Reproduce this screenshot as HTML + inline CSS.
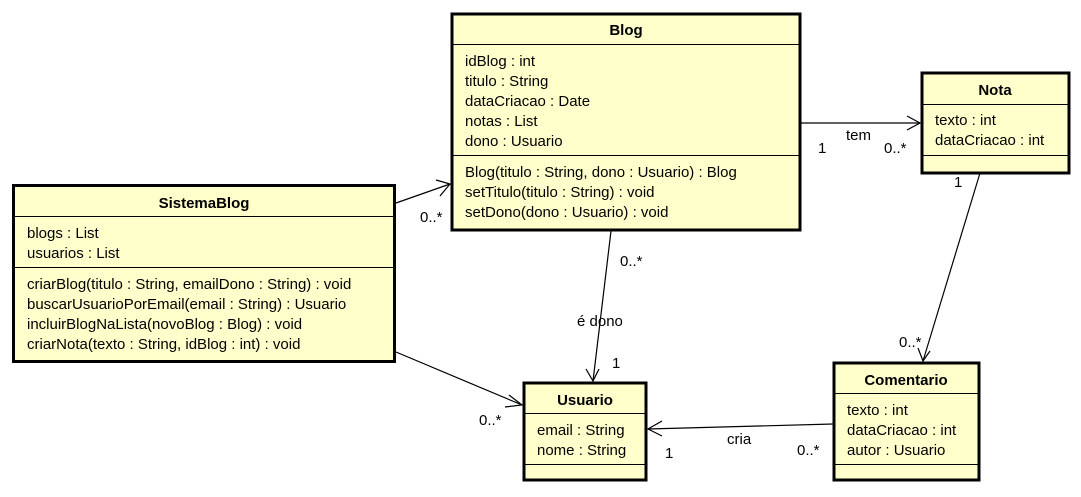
<!DOCTYPE html>
<html><head><style>
html,body{margin:0;padding:0;background:#fff;}
svg text{font-family:"Liberation Sans",Arial,sans-serif;font-size:15px;fill:#000;}
.b{font-weight:bold;}
</style></head><body>
<svg width="1081" height="492" viewBox="0 0 1081 492" xmlns="http://www.w3.org/2000/svg">
<g fill="#ffffcc" stroke="#000" stroke-width="3">
<rect x="452" y="14" width="348" height="216"/>
<rect x="13.5" y="185.5" width="381" height="176"/>
<rect x="922" y="73" width="147" height="100"/>
<rect x="524" y="383" width="122" height="97"/>
<rect x="834" y="363" width="145" height="117"/>
</g>
<g stroke="#000" stroke-width="1">
<line x1="452" y1="44.5" x2="800" y2="44.5"/><line x1="452" y1="155.5" x2="800" y2="155.5"/>
<line x1="14" y1="216.5" x2="394" y2="216.5"/><line x1="14" y1="267.5" x2="394" y2="267.5"/>
<line x1="922" y1="104.5" x2="1069" y2="104.5"/><line x1="922" y1="155.5" x2="1069" y2="155.5"/>
<line x1="524" y1="413.5" x2="646" y2="413.5"/><line x1="524" y1="464.5" x2="646" y2="464.5"/>
<line x1="834" y1="393.5" x2="979" y2="393.5"/><line x1="834" y1="464.5" x2="979" y2="464.5"/>
</g>
<g fill="none" stroke="#000" stroke-width="1.2">
<line x1="396" y1="203" x2="450" y2="184"/><polyline points="436,180 450,184 440,196"/>
<line x1="801" y1="123" x2="920" y2="123"/><polyline points="907,116 920,123 907,130"/>
<line x1="611" y1="231" x2="593" y2="381"/><polyline points="586,369 593,381 599,369"/>
<line x1="980" y1="173" x2="923" y2="361"/><polyline points="918,348 923,361 930,351"/>
<line x1="396" y1="352" x2="522" y2="405"/><polyline points="509,395 522,405 505,407"/>
<line x1="833" y1="424" x2="648" y2="429"/><polyline points="662,421 648,429 662,436"/>
</g>
<text class="b" x="626" y="35" text-anchor="middle">Blog</text>
<text x="465" y="66">idBlog : int</text>
<text x="465" y="86">titulo : String</text>
<text x="465" y="106">dataCriacao : Date</text>
<text x="465" y="126">notas : List</text>
<text x="465" y="146">dono : Usuario</text>
<text x="465" y="177">Blog(titulo : String, dono : Usuario) : Blog</text>
<text x="465" y="197">setTitulo(titulo : String) : void</text>
<text x="465" y="217">setDono(dono : Usuario) : void</text>
<text class="b" x="204" y="208" text-anchor="middle">SistemaBlog</text>
<text x="27" y="238">blogs : List</text>
<text x="27" y="258">usuarios : List</text>
<text x="27" y="289">criarBlog(titulo : String, emailDono : String) : void</text>
<text x="27" y="309">buscarUsuarioPorEmail(email : String) : Usuario</text>
<text x="27" y="329">incluirBlogNaLista(novoBlog : Blog) : void</text>
<text x="27" y="349">criarNota(texto : String, idBlog : int) : void</text>
<text class="b" x="995" y="95" text-anchor="middle">Nota</text>
<text x="935" y="125">texto : int</text>
<text x="935" y="145">dataCriacao : int</text>
<text class="b" x="585" y="405" text-anchor="middle">Usuario</text>
<text x="537" y="435">email : String</text>
<text x="537" y="455">nome : String</text>
<text class="b" x="906" y="385" text-anchor="middle">Comentario</text>
<text x="847" y="415">texto : int</text>
<text x="847" y="435">dataCriacao : int</text>
<text x="847" y="455">autor : Usuario</text>
<text x="420" y="222">0..*</text>
<text x="818" y="153">1</text>
<text x="846" y="140">tem</text>
<text x="884" y="153">0..*</text>
<text x="620" y="266">0..*</text>
<text x="577" y="326">é dono</text>
<text x="612" y="368">1</text>
<text x="954" y="187">1</text>
<text x="899" y="347">0..*</text>
<text x="479" y="425">0..*</text>
<text x="727" y="444">cria</text>
<text x="665" y="458">1</text>
<text x="797" y="455">0..*</text>
</svg>
</body></html>
